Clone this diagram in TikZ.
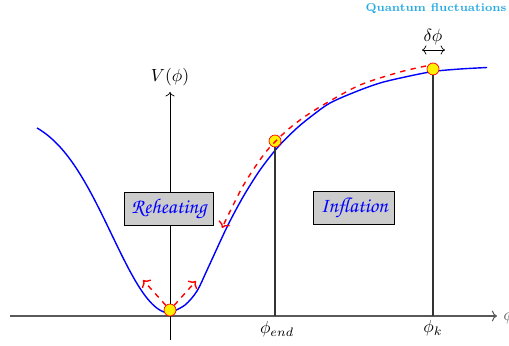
\documentclass[tikz,border=0pt]{standalone}
\usepackage{amsmath}
\usepackage{amssymb}
\usepackage{xcolor}
\usepackage{tikz}
\usetikzlibrary{arrows.meta, shapes, positioning, calc}
\definecolor{qcyan}{RGB}{41,171,226}
\newcommand{\chancery}{\fontencoding{T1}\fontfamily{pzc}\fontseries{mb}\fontshape{it}\selectfont}

\begin{document}
\begin{tikzpicture}[
        x=0.02cm, y=-0.02cm,
        region/.style={rectangle, draw, fill=gray!40, text=blue, font=\chancery\large, inner xsep=4pt},
        ball/.style={circle, draw=red, fill=yellow, minimum size=0.24cm, inner sep=0pt},
        potential/.style={blue, thick},
        flow/.style={red, dashed, thick, ->},
        marker/.style={black!80, line width=1.1pt}
    ]
        \useasboundingbox (0,0) rectangle (509,345);

        % axes
        \draw [->, black!65, semithick] (10,316) -- (497,316) node[right] (xlab) {$\phi$};
        \draw [->] (170,340) -- (170,92) node[above] (vlab) {$V(\phi)$};

        % potential
        \draw [potential] plot[domain=-133:0, samples=60] ({170+\x}, {313-200*(1-exp(-(\x/82.6)^2))})
            plot[smooth] coordinates {(170,313) (185,305) (197,291) (208,268) (227,227) (243,197) (260,170) (278,147) (297,128) (313,115) (330,103) (355,92) (380,83) (405,77) (433,71.5) (460,69) (487,67.5)};

        \coordinate (aend) at (275,316);
        \coordinate (ak) at (433,316);
        \node (pend) [ball] at (275,141) {};
        \node (pk) [ball] at (433,69) {};
        \draw [marker] (pend) -- (aend);
        \draw [marker] (pk) -- (ak);
        \node (pmin) [ball] at (170,310) {};

        \node (lend) at (277,329) {$\phi_{end}$};
        \node (lk) at (433,328) {$\phi_k$};

        % fluctuations
        \node (dphi) at (433,37) {$\delta\phi$};
        \coordinate (dl) at (422,50);
        \coordinate (dr) at (445,50);
        \draw [<->] (dl) -- (dr);
        \node (qf) [text=qcyan, font=\fontsize{6.5pt}{8pt}\selectfont\bfseries] at (436,9) {Quantum fluctuations};

        % rolling down and oscillating
        \draw [flow] plot[smooth] coordinates {(426,66) (400,72) (360,85) (323,105) (300,120) (283,134) (265,153) (243,186) (222,228)};
        \coordinate (osl) at (143,280);
        \coordinate (osr) at (196,281);
        \draw [flow] (pmin) -- (osl);
        \draw [flow] (pmin) -- (osr);

        \node (reh) [region] at (169,209) {Reheating};
        \node (inf) [region] at (354,208) {Inflation};
    \end{tikzpicture}
\end{document}
